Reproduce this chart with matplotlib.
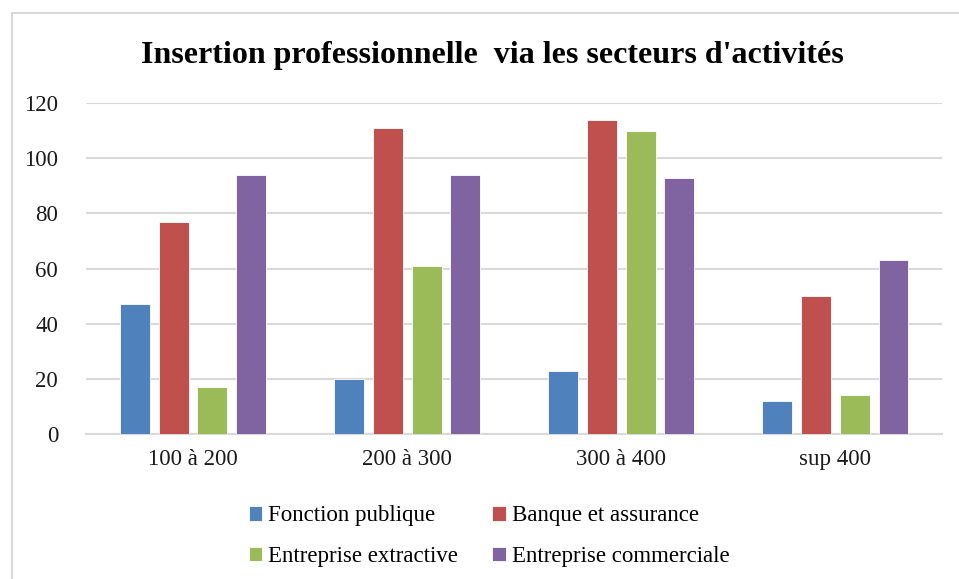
import matplotlib
matplotlib.use("Agg")
import matplotlib.pyplot as plt
import numpy as np
from matplotlib.patches import Rectangle

# data
categories = ["100 à 200", "200 à 300", "300 à 400", "sup 400"]
series_names = ["Fonction publique", "Banque et assurance",
                "Entreprise extractive", "Entreprise commerciale"]
fonction_publique = [47, 20, 23, 12]
banque_assurance = [77, 111, 114, 50]
entreprise_extractive = [17, 61, 110, 14]
entreprise_commerciale = [94, 94, 93, 63]
colors = ["#4F81BD", "#C0504D", "#9BBB59", "#8064A2"]

plt.rcParams['font.family'] = ['Liberation Serif', 'DejaVu Serif']

fig = plt.figure(figsize=(9.59, 5.79), dpi=100)
ax = fig.add_axes([0.0897, 0.2504, 0.893, 0.5716])

x = np.arange(len(categories))
step = 0.181
width = 0.14
all_series = [fonction_publique, banque_assurance, entreprise_extractive, entreprise_commerciale]
handles = []
for i, (vals, name, c) in enumerate(zip(all_series, series_names, colors)):
    b = ax.bar(x + (i - 1.5) * step, vals, width, color=c, label=name,
               edgecolor='white', linewidth=0.6, zorder=3)
    handles.append(b)

ax.set_xlim(-0.5, len(categories) - 0.5)
ax.set_ylim(0, 120)
ax.set_yticks(range(0, 121, 20))
ax.set_xticks(x)
ax.set_xticklabels(categories)
ax.tick_params(axis='both', length=0, labelsize=16.5, colors='#1a1a1a')
ax.tick_params(axis='y', pad=20)
ax.tick_params(axis='x', pad=11)
ax.grid(axis='y', color='#D9D9D9', linewidth=1.5, zorder=0)
for s in ['top', 'right', 'left']:
    ax.spines[s].set_visible(False)
ax.spines['bottom'].set_color('#D9D9D9')
ax.spines['bottom'].set_linewidth(1.5)

fig.suptitle("Insertion professionnelle  via les secteurs d'activités",
             x=0.513, y=0.93, fontsize=23, fontweight='bold')

# legend row-wise order
order = [0, 2, 1, 3]
leg = fig.legend([handles[i] for i in order], [series_names[i] for i in order],
                 loc='center', bbox_to_anchor=(0.51, 0.074), ncol=2, frameon=False,
                 fontsize=16.5, handlelength=0.6, handleheight=0.6,
                 handletextpad=0.25, columnspacing=1.5, labelspacing=0.85)

# chart border
fig.patches.append(Rectangle((0.012, -0.01), 1.0, 0.988, transform=fig.transFigure,
                             fill=False, edgecolor='#D9D9D9', linewidth=1.5))

plt.savefig("out.png", dpi=100)
